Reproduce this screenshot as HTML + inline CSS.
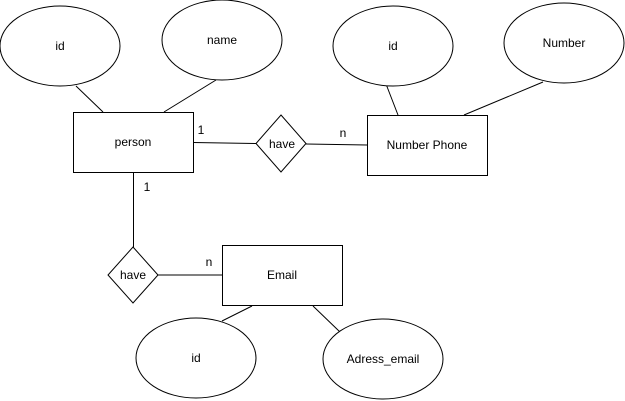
<!DOCTYPE html>
<html><head><style>html,body{margin:0;padding:0;background:#fff;}svg{display:block}</style></head>
<body>
<svg width="625" height="401" viewBox="0 0 625 401" xmlns="http://www.w3.org/2000/svg" font-family="'Liberation Sans', Arial, sans-serif" font-size="12" fill="none" stroke="#000" stroke-width="1">
<g stroke="#000">
<line x1="76" y1="86" x2="103" y2="112"/>
<line x1="216" y1="80" x2="164" y2="112"/>
<line x1="193" y1="142.5" x2="256" y2="143.5"/>
<line x1="306" y1="144" x2="367" y2="145"/>
<line x1="386" y1="84" x2="398" y2="115"/>
<line x1="543" y1="82" x2="464" y2="115"/>
<line x1="133.5" y1="172" x2="133.5" y2="247"/>
<line x1="158" y1="275" x2="222" y2="275"/>
<line x1="252" y1="306" x2="222" y2="321"/>
<line x1="313" y1="306" x2="340" y2="332"/>
</g>
<g fill="#fff">
<ellipse cx="60" cy="46" rx="60" ry="40"/>
<ellipse cx="222" cy="40" rx="60" ry="40"/>
<ellipse cx="393" cy="46" rx="60" ry="40"/>
<ellipse cx="564" cy="43" rx="60" ry="40"/>
<ellipse cx="196" cy="358" rx="60" ry="40"/>
<ellipse cx="383" cy="359" rx="60" ry="40"/>
<rect x="73.5" y="112.5" width="120" height="60"/>
<rect x="367.5" y="115.5" width="120" height="60"/>
<rect x="222.5" y="245.5" width="120" height="60"/>
<polygon points="281,115 306,143.5 281,172 256,143.5"/>
<polygon points="133,247 158,275 133,303 108,275"/>
</g>
<g fill="#000" stroke="none" text-anchor="middle" dominant-baseline="central">
<text x="60" y="46">id</text>
<text x="222" y="40">name</text>
<text x="393" y="46">id</text>
<text x="564" y="43">Number</text>
<text x="133" y="142">person</text>
<text x="427" y="145">Number Phone</text>
<text x="282" y="144">have</text>
<text x="133" y="275">have</text>
<text x="282" y="275">Email</text>
<text x="196" y="358">id</text>
<text x="383" y="359">Adress_email</text>
<text x="201" y="130">1</text>
<text x="147" y="187">1</text>
<text x="343" y="133">n</text>
<text x="209" y="262">n</text>
</g>
</svg>
</body></html>
